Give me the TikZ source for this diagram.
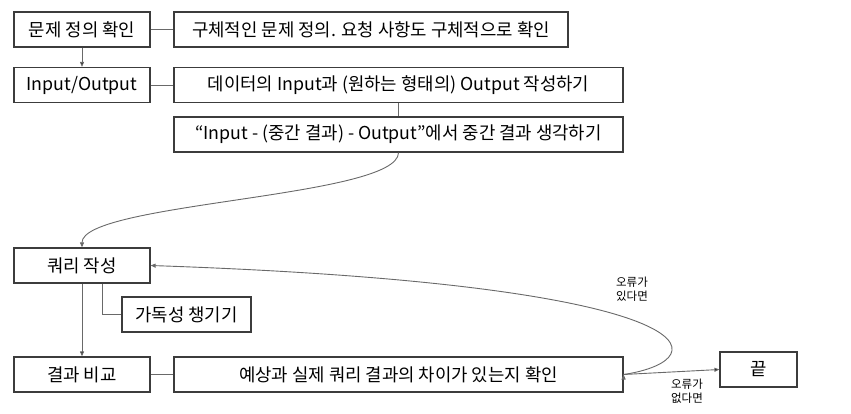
\documentclass[tikz,border=0pt]{standalone}
\usepackage{fontspec}
\setmainfont{Noto Sans CJK KR}
\usepackage{tikz}
\usetikzlibrary{arrows.meta,positioning,calc}
\definecolor{boxline}{RGB}{60,60,60}
\definecolor{connline}{RGB}{105,105,105}

\begin{document}
\begin{tikzpicture}[x=1pt,y=-1pt,
  stepbox/.style={draw=boxline, line width=1.2pt, inner sep=0pt, minimum height=35pt, font=\fontsize{17.8}{20}\selectfont},
  conn/.style={draw=connline, line width=0.9pt},
  arr/.style={conn, -{Triangle[length=5pt,width=4pt]}},
  note/.style={align=center, font=\fontsize{11.5}{13.5}\selectfont, inner sep=0pt}]
  \useasboundingbox (0,0) rectangle (851,414);

  \node (check) [stepbox, minimum width=136pt] at (82,29.5) {문제 정의 확인};
  \node (checktxt) [stepbox, minimum width=394pt] at (371,29.5) {구체적인 문제 정의. 요청 사항도 구체적으로 확인};
  \node (io) [stepbox, minimum width=136pt] at (82,85) {Input/Output};
  \node (iotxt) [stepbox, minimum width=449pt] at (398.5,85) {데이터의 Input과 (원하는 형태의) Output 작성하기};
  \node (mid) [stepbox, minimum width=449pt] at (398.5,134.5) {“Input - (중간 결과) - Output”에서 중간 결과 생각하기};
  \node (query) [stepbox, minimum width=136pt] at (82,265.5) {쿼리 작성};
  \node (read) [stepbox, minimum width=129pt] at (186.5,314.5) {가독성 챙기기};
  \node (cmp) [stepbox, minimum width=136pt] at (82,374.5) {결과 비교};
  \node (cmptxt) [stepbox, minimum width=449pt] at (398.5,374.5) {예상과 실제 쿼리 결과의 차이가 있는지 확인};
  \node (done) [stepbox, minimum width=77pt] at (758.5,369.5) {끝};

  \node (yes) [note] at (632,289) {오류가\\있다면};
  \node (no) [note] at (687,391) {오류가\\없다면};

  \path [conn]
  (check) edge (checktxt)
  (io) edge (iotxt)
  (iotxt) edge (mid)
  (cmp) edge (cmptxt);
  \draw [conn] ([xshift=20pt]query.south) |- (read.west);

  \path [arr]
  (check) edge (io)
  (query) edge (cmp)
  (cmptxt.east) edge (done.west);
  \draw [arr] (mid.south) .. controls +(0,45) and +(0,-45) .. (query.north);
  \draw [arr] (cmptxt.east) .. controls +(97,-14.5) and +(570,19.5) .. (query.east);
\end{tikzpicture}
\end{document}
